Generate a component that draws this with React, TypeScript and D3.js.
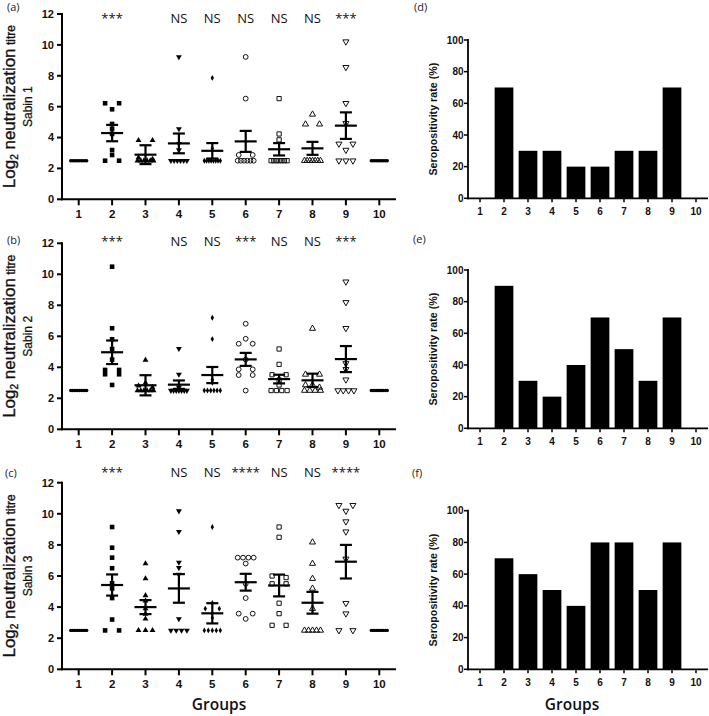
import React from "react";
import * as d3 from "d3";

// ---------- DATA ----------
const groups = ["1", "2", "3", "4", "5", "6", "7", "8", "9", "10"];
const titreTicks = [0, 2, 4, 6, 8, 10, 12];
const rateTicks = [0, 20, 40, 60, 80, 100];

const base10 = [2.5, 2.5, 2.5, 2.5, 2.5, 2.5, 2.5, 2.5, 2.5, 2.5];

// Sabin 1 (panel a)
const sabin1Values: number[][] = [
  base10,
  [6.22, 6.22, 5.83, 4.88, 4.56, 4.23, 3.19, 2.87, 2.5, 2.5],
  [3.82, 3.82, 2.7, 2.6, 2.5, 2.5, 2.5, 2.5, 2.5, 2.5],
  [9.22, 4.56, 3.6, 3.19, 2.5, 2.5, 2.5, 2.5, 2.5, 2.5],
  [7.86, 3.3, 2.5, 2.5, 2.5, 2.5, 2.5, 2.5, 2.5, 2.5],
  [9.22, 6.52, 2.87, 2.87, 2.5, 2.5, 2.5, 2.5, 2.5, 2.5],
  [6.52, 4.23, 3.85, 2.5, 2.5, 2.5, 2.5, 2.5, 2.5, 2.5],
  [5.5, 4.86, 4.86, 2.5, 2.5, 2.5, 2.5, 2.5, 2.5, 2.5],
  [10.21, 8.55, 6.22, 4.92, 3.59, 3.59, 3.19, 2.5, 2.5, 2.5],
  base10,
];
const sabin1Means = [2.5, 4.29, 2.89, 3.62, 3.14, 3.75, 3.24, 3.3, 4.77, 2.5];
const sabin1Sem = [0, 0.53, 0.61, 0.64, 0.5, 0.68, 0.4, 0.42, 0.86, 0];
const sabin1Sig = ["", "***", "", "NS", "NS", "NS", "NS", "NS", "***", ""];

// Sabin 2 (panel b)
const sabin2Values: number[][] = [
  base10,
  [10.49, 6.52, 5.81, 5.18, 4.5, 3.83, 3.83, 3.55, 3.55, 2.86],
  [4.47, 3.0, 2.8, 2.7, 2.5, 2.5, 2.5, 2.5, 2.5, 2.5],
  [5.2, 3.54, 2.7, 2.5, 2.5, 2.5, 2.5, 2.5, 2.5, 2.5],
  [7.2, 5.82, 3.2, 3.0, 2.5, 2.5, 2.5, 2.5, 2.5, 2.5],
  [6.81, 5.84, 5.52, 5.52, 4.5, 3.87, 3.87, 3.5, 3.5, 2.5],
  [5.18, 4.19, 3.52, 3.52, 3.18, 2.86, 2.5, 2.5, 2.5, 2.5],
  [6.5, 3.54, 3.54, 2.86, 2.86, 2.7, 2.5, 2.5, 2.5, 2.5],
  [9.52, 8.19, 6.52, 4.25, 3.87, 3.2, 2.5, 2.5, 2.5, 2.5],
  base10,
];
const sabin2Means = [2.5, 4.97, 2.84, 2.88, 3.5, 4.51, 3.24, 3.16, 4.53, 2.5];
const sabin2Sem = [0, 0.76, 0.65, 0.27, 0.52, 0.42, 0.28, 0.43, 0.84, 0];
const sabin2Sig = ["", "***", "", "NS", "NS", "***", "NS", "NS", "***", ""];

// Sabin 3 (panel c)
const sabin3Values: number[][] = [
  base10,
  [9.15, 7.82, 7.18, 6.5, 5.53, 5.2, 4.58, 3.2, 2.5, 2.5],
  [6.8, 5.83, 4.75, 4.4, 3.9, 3.55, 3.24, 2.5, 2.5, 2.5],
  [10.18, 8.85, 6.87, 6.53, 6.1, 3.24, 2.5, 2.5, 2.5, 2.5],
  [9.15, 4.27, 3.9, 3.9, 3.3, 2.5, 2.5, 2.5, 2.5, 2.5],
  [7.18, 7.18, 7.18, 7.18, 6.8, 5.5, 4.58, 3.58, 3.58, 3.24],
  [9.15, 8.49, 6.0, 5.9, 5.5, 5.5, 4.25, 3.58, 2.83, 2.83],
  [8.17, 6.8, 5.83, 5.2, 3.9, 2.5, 2.5, 2.5, 2.5, 2.5],
  [10.55, 10.55, 10.18, 9.5, 8.85, 7.1, 4.25, 3.58, 2.5, 2.5],
  base10,
];
const sabin3Means = [2.5, 5.42, 4.0, 5.2, 3.6, 5.6, 5.39, 4.28, 6.92, 2.5];
const sabin3Sem = [0, 0.68, 0.45, 0.92, 0.65, 0.54, 0.7, 0.7, 1.08, 0];
const sabin3Sig = ["", "***", "", "NS", "NS", "****", "NS", "NS", "****", ""];

// Seropositivity rates (%)
const seroSabin1 = [0, 70, 30, 30, 20, 20, 30, 30, 70, 0];
const seroSabin2 = [0, 90, 30, 20, 40, 70, 50, 30, 70, 0];
const seroSabin3 = [0, 70, 60, 50, 40, 80, 80, 50, 80, 0];

const markers = [
  "dot", "square", "triangle", "triangleDown", "diamond",
  "circleOpen", "squareOpen", "triangleOpen", "triangleDownOpen", "dot",
];

// ---------- LAYOUT ----------
const W = 709;
const H = 716;
const leftRange: [number, number] = [62, 396];
const rightRange: [number, number] = [468, 708];
const tickFont = "'Liberation Sans', Arial, sans-serif";
const labelFont = "'Open Sans', 'Liberation Sans', sans-serif";

const scatterPanels = [
  { label: "(a)", sabin: "Sabin 1", values: sabin1Values, means: sabin1Means, sem: sabin1Sem, sig: sabin1Sig, top: 14, bottom: 199.3, sigBase: 22.7, labelX: 7, labelBase: 11 },
  { label: "(b)", sabin: "Sabin 2", values: sabin2Values, means: sabin2Means, sem: sabin2Sem, sig: sabin2Sig, top: 243.3, bottom: 429.3, sigBase: 246, labelX: 7, labelBase: 244 },
  { label: "(c)", sabin: "Sabin 3", values: sabin3Values, means: sabin3Means, sem: sabin3Sem, sig: sabin3Sig, top: 482.7, bottom: 669.3, sigBase: 477.3, labelX: 5, labelBase: 476.7 },
];

const barPanels = [
  { label: "(d)", values: seroSabin1, top: 40, bottom: 198.3, labelBase: 10.5, labelX: 414 },
  { label: "(e)", values: seroSabin2, top: 270, bottom: 428.3, labelBase: 243, labelX: 413 },
  { label: "(f)", values: seroSabin3, top: 510.7, bottom: 669.3, labelBase: 476.5, labelX: 412 },
];

function symbolPath(kind: string): { d: string; filled: boolean; rotate: number } {
  const gen = d3.symbol();
  switch (kind) {
    case "dot": return { d: gen.type(d3.symbolCircle).size(9)()!, filled: true, rotate: 0 };
    case "square": return { d: gen.type(d3.symbolSquare).size(21)()!, filled: true, rotate: 0 };
    case "triangle": return { d: gen.type(d3.symbolTriangle).size(15)()!, filled: true, rotate: 0 };
    case "triangleDown": return { d: gen.type(d3.symbolTriangle).size(15)()!, filled: true, rotate: 180 };
    case "diamond": return { d: gen.type(d3.symbolDiamond).size(10)()!, filled: true, rotate: 0 };
    case "circleOpen": return { d: gen.type(d3.symbolCircle).size(18)()!, filled: false, rotate: 0 };
    case "squareOpen": return { d: gen.type(d3.symbolSquare).size(18)()!, filled: false, rotate: 0 };
    case "triangleOpen": return { d: gen.type(d3.symbolTriangle).size(16)()!, filled: false, rotate: 0 };
    default: return { d: gen.type(d3.symbolTriangle).size(16)()!, filled: false, rotate: 180 };
  }
}

// Spread points with (nearly) equal values horizontally, GraphPad-like
function spreadOffsets(values: number[], y: (v: number) => number): number[] {
  const idx = values.map((_, i) => i).sort((a, b) => values[b] - values[a]);
  const rows: number[][] = [];
  for (const i of idx) {
    const last = rows[rows.length - 1];
    if (last && Math.abs(y(values[last[0]]) - y(values[i])) < 3) last.push(i);
    else rows.push([i]);
  }
  const off = new Array(values.length).fill(0);
  rows.forEach((r) => {
    const k = r.length;
    if (k < 2) return;
    const total = k === 2 ? 14 : Math.min(7 * (k - 1), 16);
    r.forEach((i, j) => (off[i] = -total / 2 + (total * j) / (k - 1)));
  });
  return off;
}

function ScatterPanel({ p }: { p: (typeof scatterPanels)[number] }) {
  const x = d3.scaleBand<string>().domain(groups).range(leftRange).padding(0);
  const y = d3.scaleLinear().domain([0, 12]).range([p.bottom, p.top]);
  const cx = (g: string) => (x(g) as number) + x.bandwidth() / 2;
  const x0 = leftRange[0];
  const cy = (p.top + p.bottom) / 2;
  return (
    <g>
      <text x={p.labelX} y={p.labelBase} fontFamily={labelFont} fontSize={11} fill="#222">{p.label}</text>
      {/* y title */}
      <text transform={`translate(15,${cy}) rotate(-90)`} textAnchor="middle" fontFamily={tickFont} fontSize={17} fill="#111" stroke="#111" strokeWidth={0.35}>
        <tspan>Log</tspan>
        <tspan fontSize={10} dy={3}>2</tspan>
        <tspan dy={-3}> neutralization</tspan>
        <tspan fontSize={12}> titre</tspan>
      </text>
      <text transform={`translate(32,${cy}) rotate(-90)`} textAnchor="middle" fontFamily={tickFont} fontSize={12} fill="#111" stroke="#111" strokeWidth={0.25}>{p.sabin}</text>
      {/* y axis */}
      <line x1={x0} x2={x0} y1={y(12) - 1} y2={y(0) + 1} stroke="#000" strokeWidth={2} />
      {titreTicks.map((t) => (
        <g key={t}>
          <line x1={x0 - 5} x2={x0} y1={y(t)} y2={y(t)} stroke="#000" strokeWidth={2} />
          <text x={x0 - 8} y={y(t)} dy="0.36em" textAnchor="end" fontFamily={tickFont} fontWeight="bold" fontSize={11} fill="#111">{t}</text>
        </g>
      ))}
      {/* x axis */}
      <line x1={x0 - 1} x2={leftRange[1]} y1={y(0)} y2={y(0)} stroke="#000" strokeWidth={2} />
      {groups.map((g) => (
        <g key={g}>
          <line x1={cx(g)} x2={cx(g)} y1={y(0)} y2={y(0) + 6} stroke="#000" strokeWidth={2} />
          <text x={cx(g)} y={y(0) + 19} textAnchor="middle" fontFamily={tickFont} fontWeight="bold" fontSize={11.5} fill="#111">{g}</text>
        </g>
      ))}
      {/* significance */}
      {groups.map((g, i) => p.sig[i] ? (
        <text key={"s" + g} x={cx(g)} y={p.sigBase} textAnchor="middle" fontFamily={labelFont} fontSize={13} fill="#111">{p.sig[i]}</text>
      ) : null)}
      {/* points */}
      {groups.map((g, gi) => {
        const vals = p.values[gi];
        const offs = spreadOffsets(vals, y);
        const sym = symbolPath(markers[gi]);
        return (
          <g key={"p" + g}>
            {vals.map((v, k) => (
              <path
                key={k}
                d={sym.d}
                transform={`translate(${cx(g) + offs[k]},${y(v)}) rotate(${sym.rotate})`}
                fill={sym.filled ? "#000" : "none"}
                stroke={sym.filled ? "none" : "#111"}
                strokeWidth={1}
              />
            ))}
          </g>
        );
      })}
      {/* mean ± SEM */}
      {groups.map((g, gi) => {
        const m = p.means[gi];
        const s = p.sem[gi];
        if (s === 0) return null;
        const c = cx(g);
        return (
          <g key={"m" + g} stroke="#000" strokeWidth={2.2}>
            <line x1={c} x2={c} y1={y(m + s)} y2={y(m - s)} />
            <line x1={c - 6} x2={c + 6} y1={y(m + s)} y2={y(m + s)} />
            <line x1={c - 6} x2={c + 6} y1={y(m - s)} y2={y(m - s)} />
            <line x1={c - 11} x2={c + 11} y1={y(m)} y2={y(m)} />
          </g>
        );
      })}
    </g>
  );
}

function BarPanel({ p }: { p: (typeof barPanels)[number] }) {
  const x = d3.scaleBand<string>().domain(groups).range(rightRange).paddingInner(0.22).paddingOuter(0.11);
  const y = d3.scaleLinear().domain([0, 100]).range([p.bottom, p.top]);
  const cx = (g: string) => (x(g) as number) + x.bandwidth() / 2;
  const x0 = rightRange[0];
  const cy = (p.top + p.bottom) / 2;
  return (
    <g>
      <text x={p.labelX} y={p.labelBase} fontFamily={labelFont} fontSize={11} fill="#222">{p.label}</text>
      <text transform={`translate(437,${cy}) rotate(-90)`} textAnchor="middle" fontFamily={tickFont} fontWeight="bold" fontSize={10.7} fill="#111">Seropositivity rate (%)</text>
      {groups.map((g, i) => (
        <rect key={"b" + g} x={x(g)} y={y(p.values[i])} width={x.bandwidth()} height={y(0) - y(p.values[i])} fill="#000" />
      ))}
      <line x1={x0} x2={x0} y1={y(100) - 1} y2={y(0) + 1} stroke="#000" strokeWidth={1.8} />
      {rateTicks.map((t) => (
        <g key={t}>
          <line x1={x0 - 4} x2={x0} y1={y(t)} y2={y(t)} stroke="#000" strokeWidth={1.5} />
          <text x={x0 - 4.5} y={y(t)} dy="0.36em" textAnchor="end" fontFamily={tickFont} fontWeight="bold" fontSize={10} fill="#111">{t}</text>
        </g>
      ))}
      <line x1={x0 - 1} x2={rightRange[1]} y1={y(0)} y2={y(0)} stroke="#000" strokeWidth={1.8} />
      {groups.map((g) => (
        <g key={g}>
          <line x1={cx(g)} x2={cx(g)} y1={y(0)} y2={y(0) + 4} stroke="#000" strokeWidth={1.5} />
          <text x={cx(g)} y={y(0) + 17} textAnchor="middle" fontFamily={tickFont} fontWeight="bold" fontSize={10} fill="#111">{g}</text>
        </g>
      ))}
    </g>
  );
}

export default function App() {
  return (
    <svg width={W} height={H} viewBox={`0 0 ${W} ${H}`} style={{ position: "absolute", left: 0, top: 0, background: "#fff" }}>
      <rect x={0} y={0} width={W} height={H} fill="#fff" />
      {scatterPanels.map((p) => <ScatterPanel key={p.label} p={p} />)}
      {barPanels.map((p) => <BarPanel key={p.label} p={p} />)}
      <text x={219} y={710} textAnchor="middle" fontFamily={labelFont} fontWeight={600} fontSize={15.5} fill="#111">Groups</text>
      <text x={572} y={710} textAnchor="middle" fontFamily={labelFont} fontWeight={600} fontSize={15.5} fill="#111">Groups</text>
    </svg>
  );
}
